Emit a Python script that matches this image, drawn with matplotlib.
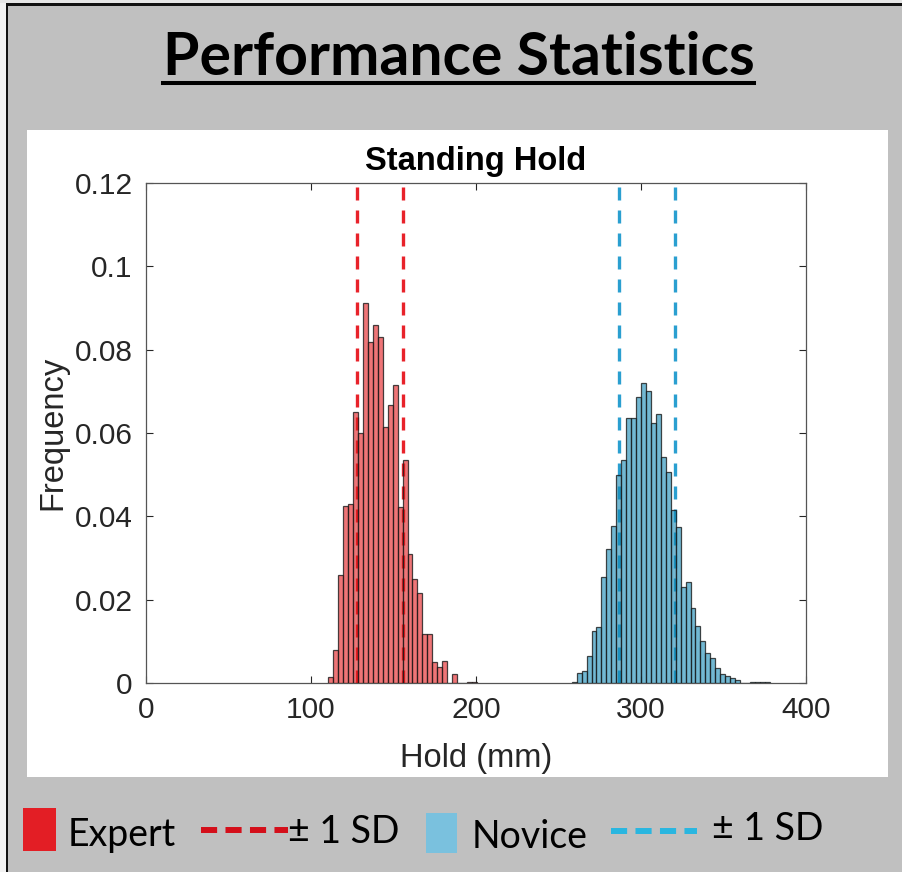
import matplotlib
matplotlib.use("Agg")
import matplotlib.pyplot as plt
from matplotlib.patches import Rectangle
from matplotlib.lines import Line2D

# ---------------------------------------------------------------- data
bin_width = 3.0

expert_start = 110.5
expert_freq = [0.0014, 0.0079, 0.0260, 0.0425, 0.0430, 0.0650, 0.0600, 0.0912,
               0.0819, 0.0858, 0.0830, 0.0615, 0.0666, 0.0715, 0.0423, 0.0535,
               0.0310, 0.0249, 0.0215, 0.0118, 0.0118, 0.0051, 0.0039, 0.0053,
               0.0000, 0.0022, 0.0001, 0.0000, 0.0002, 0.0002]

novice_start = 258.0
novice_freq = [0.0003, 0.0023, 0.0028, 0.0066, 0.0125, 0.0134, 0.0254, 0.0321,
               0.0376, 0.0498, 0.0534, 0.0637, 0.0635, 0.0686, 0.0719, 0.0701,
               0.0625, 0.0645, 0.0542, 0.0506, 0.0414, 0.0374, 0.0230, 0.0243,
               0.0181, 0.0138, 0.0102, 0.0071, 0.0061, 0.0036, 0.0022, 0.0018,
               0.0011, 0.0007, 0.0001, 0.0000, 0.0002, 0.0002, 0.0002, 0.0002]

expert_sd = [127.8, 155.7]
novice_sd = [286.6, 320.5]

x_ticks = [0, 100, 200, 300, 400]
y_ticks = [0, 0.02, 0.04, 0.06, 0.08, 0.10, 0.12]
y_tick_labels = ["0", "0.02", "0.04", "0.06", "0.08", "0.1", "0.12"]

main_title = "Performance Statistics"
plot_title = "Standing Hold"
x_label = "Hold (mm)"
y_label = "Frequency"
legend_labels = ["Expert", "\u00b1 1 SD", "Novice", "\u00b1 1 SD"]

# ---------------------------------------------------------------- layout helpers
W, H = 902, 872
fig = plt.figure(figsize=(W / 100, H / 100), dpi=100, facecolor="#c0c0c0")


def fx(px):
    return px / W


def fy(py):
    return 1 - py / H


def frect(x0, y0, x1, y1):
    return (x0 / W, 1 - y1 / H, (x1 - x0) / W, (y1 - y0) / H)


def add_rect(x0, y0, x1, y1, color, z=0.1):
    l, b, w, h = frect(x0, y0, x1, y1)
    fig.add_artist(Rectangle((l, b), w, h, transform=fig.transFigure,
                             facecolor=color, edgecolor="none", zorder=z))


# frame around the slide panel
add_rect(0, 0, 6, H, "#f2f2f2")
add_rect(0, 0, W, 3, "#e6e6e6")
add_rect(6, 3, 8, H, "#111111", 0.2)
add_rect(6, 3, W, 6, "#111111", 0.2)

# white plot card
add_rect(27, 130, 888, 777, "white", 0.3)

# ---------------------------------------------------------------- heading
title_txt = fig.text(fx(458.5), fy(75), main_title, ha="center", va="baseline",
                     fontfamily="Lato", fontweight="bold", fontsize=36, zorder=5)
renderer = fig.canvas.get_renderer()
tw = title_txt.get_window_extent(renderer).width
title_txt.set_fontsize(36 * 591 / tw)
fig.add_artist(Line2D([fx(163), fx(754)], [fy(83), fy(83)], color="black",
                      lw=2.9, transform=fig.transFigure, zorder=5))

# ---------------------------------------------------------------- histogram axes
ax = fig.add_axes(frect(146, 183, 806, 683), zorder=1)
ax.set_facecolor("white")

axis_col = "#262626"
tick_font = dict(family="Liberation Sans", size=21.5)

expert_edges = [expert_start + i * bin_width for i in range(len(expert_freq))]
novice_edges = [novice_start + i * bin_width for i in range(len(novice_freq))]

ax.bar(expert_edges, expert_freq, width=bin_width, align="edge",
       facecolor=(0.89, 0.10, 0.11, 0.6), edgecolor=(0.1, 0.1, 0.1, 0.8),
       linewidth=0.9, zorder=3)
ax.bar(novice_edges, novice_freq, width=bin_width, align="edge",
       facecolor=(0.08, 0.54, 0.71, 0.6), edgecolor=(0.1, 0.1, 0.1, 0.8),
       linewidth=0.9, zorder=3)

for v in expert_sd:
    ax.axvline(v, color="#e8222a", lw=2.4, ls=(0, (3.9, 3.0)), zorder=2)
for v in novice_sd:
    ax.axvline(v, color="#2a9fd0", lw=2.4, ls=(0, (3.9, 3.0)), zorder=2)

ax.set_xlim(0, 400)
ax.set_ylim(0, 0.12)
ax.set_xticks(x_ticks)
ax.set_xticklabels([str(t) for t in x_ticks], fontdict=tick_font)
ax.set_yticks(y_ticks)
ax.set_yticklabels(y_tick_labels, fontdict=tick_font)
ax.tick_params(direction="in", length=5, width=0.8, top=True, right=True,
               colors=axis_col, pad=9.5)
for s in ax.spines.values():
    s.set_color("#555555")
    s.set_linewidth(0.9)

ax.text(0.5, 1 + 13 / 500, plot_title, transform=ax.transAxes, ha="center",
        va="baseline", family="Liberation Sans", fontweight="bold",
        size=23.5, color="black")
fig.text(fx(476), fy(767), x_label, ha="center", va="baseline",
         family="Liberation Sans", size=23.5, color=axis_col, zorder=5)
fig.text(fx(53), fy(433), y_label, ha="center", va="center", rotation=90,
         family="Liberation Sans", size=23.5, color=axis_col, zorder=5)

# ---------------------------------------------------------------- legend strip
leg_font = dict(family="Lato", size=27, color="black", zorder=5)

add_rect(23, 808, 56, 851, "#e31e25", 0.4)
fig.text(fx(68), fy(846), legend_labels[0], ha="left", va="baseline", **leg_font)
fig.add_artist(Line2D([fx(201), fx(288)], [fy(830), fy(830)], color="#d40f1a",
                      lw=4.3, ls=(0, (2.7, 1.4)), transform=fig.transFigure,
                      zorder=5))
fig.text(fx(288), fy(843), legend_labels[1], ha="left", va="baseline", **leg_font)

add_rect(426, 813, 457, 853, "#7ac1de", 0.4)
fig.text(fx(472), fy(848), legend_labels[2], ha="left", va="baseline", **leg_font)
fig.add_artist(Line2D([fx(611), fx(697)], [fy(831), fy(831)], color="#29b6e0",
                      lw=4.3, ls=(0, (2.7, 1.4)), transform=fig.transFigure,
                      zorder=5))
fig.text(fx(712), fy(840), legend_labels[3], ha="left", va="baseline", **leg_font)

fig.savefig("out.png", dpi=100, facecolor=fig.get_facecolor())
